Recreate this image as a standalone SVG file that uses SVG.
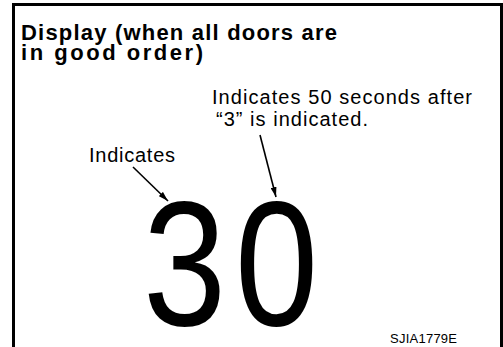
<svg xmlns="http://www.w3.org/2000/svg" width="503" height="347" viewBox="0 0 503 347">
<style>
.t{font-family:"Liberation Sans",Arial,sans-serif;fill:#000}
.title{font-size:22px;font-weight:bold}
.lbl{font-size:20px}
.big{font-size:178px}
.code{font-size:13px}
.arr{stroke:#000;stroke-width:1.6;fill:none;marker-end:url(#ah)}
</style>
<defs>
<marker id="ah" viewBox="0 0 10 6" refX="10" refY="3" markerWidth="10" markerHeight="6" markerUnits="userSpaceOnUse" orient="auto">
<path d="M0,0 L10,3 L0,6 Z" fill="#000"/>
</marker>
</defs>
<rect x="0" y="0" width="503" height="347" fill="#fff"/>
<path d="M13.5,347 V4.5 H501.5 V347" fill="none" stroke="#000" stroke-width="3"/>
<g id="title">
<text class="t title" x="21" y="40" textLength="316" lengthAdjust="spacing">Display (when all doors are</text>
<text class="t title" x="21" y="60" textLength="182" lengthAdjust="spacing">in good order)</text>
</g>
<g id="label-50s">
<text class="t lbl" x="212" y="104" textLength="260" lengthAdjust="spacing">Indicates 50 seconds after</text>
<text class="t lbl" x="216" y="126" textLength="152" lengthAdjust="spacing">“3” is indicated.</text>
</g>
<g id="label-indicates">
<text class="t lbl" x="89" y="162" textLength="86" lengthAdjust="spacing">Indicates</text>
</g>
<g id="display">
<text class="t big" transform="translate(143,325) scale(0.84,1)" x="0" y="0">3</text>
<text class="t big" transform="translate(235,325) scale(0.84,1)" x="0" y="0">0</text>
</g>
<g id="connectors">
<line class="arr" x1="133" y1="167" x2="168" y2="201"/>
<line class="arr" x1="260" y1="135" x2="276" y2="197"/>
</g>
<g id="code">
<text class="t code" x="390" y="343" textLength="67" lengthAdjust="spacing">SJIA1779E</text>
</g>
</svg>
